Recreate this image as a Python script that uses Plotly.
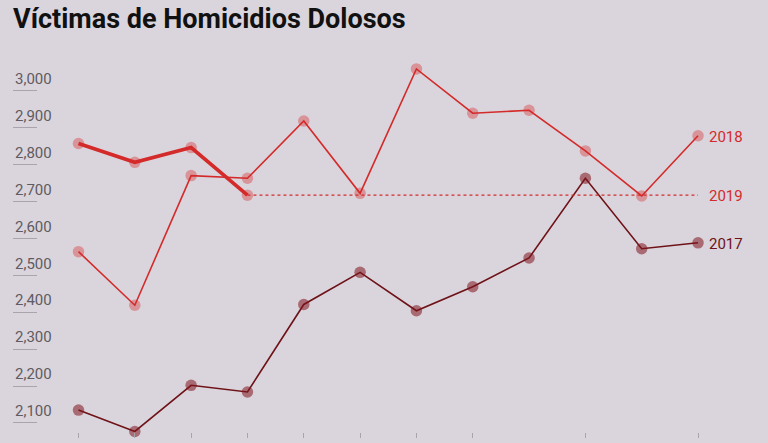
"""
Víctimas de Homicidios Dolosos: monthly victims, 2017-2019.
"""
import plotly.graph_objects as go

# ── Data ──────────────────────────────────────────────────────────────────────
MONTHS = ["Ene", "Feb", "Mar", "Abr", "May", "Jun",
          "Jul", "Ago", "Sep", "Oct", "Nov", "Dic"]
TICK_MONTHS = ["Ene", "Feb", "Mar", "Abr", "May", "Jun", "Jul", "Ago", "Oct", "Dic"]

V2017 = [2135, 2077, 2202, 2184, 2421, 2508, 2404, 2469, 2547, 2763, 2572, 2588]
V2018 = [2564, 2419, 2770, 2763, 2918, 2722, 3059, 2939, 2947, 2837, 2715, 2878]
V2019 = [2857, 2806, 2846, 2717]

Y_TICKS = [2100, 2200, 2300, 2400, 2500, 2600, 2700, 2800, 2900, 3000]

# ── Colours ───────────────────────────────────────────────────────────────────
PALETTE = {
    "bg":       "#DAD5DC",
    "red":      "#D42A2A",
    "red_mk":   "rgba(212,42,42,0.38)",
    "maroon":   "#6E1218",
    "maroon_mk": "rgba(128,20,30,0.55)",
    "tick":     "#A9A4AC",
    "label":    "#5F5B62",
    "title":    "#111111",
}

fig = go.Figure()

fig.add_trace(go.Scatter(
    x=MONTHS, y=V2017, name="2017", mode="lines+markers",
    line=dict(color=PALETTE["maroon"], width=1.6),
    marker=dict(size=11.5, color=PALETTE["maroon_mk"]),
    cliponaxis=False,
))
fig.add_trace(go.Scatter(
    x=MONTHS, y=V2018, name="2018", mode="lines+markers",
    line=dict(color=PALETTE["red"], width=1.6),
    marker=dict(size=11.5, color=PALETTE["red_mk"]),
    cliponaxis=False,
))
# last 2019 value carried to the end of the year as a reference
fig.add_trace(go.Scatter(
    x=MONTHS[len(V2019) - 1:], y=[V2019[-1]] * (len(MONTHS) - len(V2019) + 1),
    mode="lines", line=dict(color=PALETTE["red"], width=1.3, dash="3px,3px"),
    hoverinfo="skip",
))
fig.add_trace(go.Scatter(
    x=MONTHS[:len(V2019)], y=V2019, name="2019", mode="lines+markers",
    line=dict(color=PALETTE["red"], width=3.6),
    marker=dict(size=11.5, color=PALETTE["red_mk"]),
    cliponaxis=False,
))

for label, yval, color in [("2018", V2018[-1], PALETTE["red"]),
                           ("2019", V2019[-1], PALETTE["red"]),
                           ("2017", V2017[-1], PALETTE["maroon"])]:
    fig.add_annotation(
        x=MONTHS[-1], y=yval, text=label, showarrow=False,
        xanchor="left", xshift=9, yshift=-1,
        font=dict(size=15, color=color, family="Roboto"),
    )

fig.update_layout(
    width=768, height=443,
    paper_bgcolor=PALETTE["bg"], plot_bgcolor=PALETTE["bg"],
    font=dict(family="Roboto", color=PALETTE["label"]),
    margin=dict(l=13, r=2, t=55, b=11),
    showlegend=False,
    title=dict(
        text="<b>Víctimas de Homicidios Dolosos</b>",
        font=dict(size=27, color=PALETTE["title"], family="Roboto"),
        xref="paper", x=0, xanchor="left",
        yref="container", y=0.958, yanchor="middle",
    ),
    xaxis=dict(
        type="category", categoryorder="array", categoryarray=MONTHS,
        range=[-1.163, 12.207],
        showgrid=False, zeroline=False, showline=False,
        tickmode="array", tickvals=TICK_MONTHS,
        ticks="outside", ticklen=5, tickwidth=1, tickcolor=PALETTE["tick"],
        showticklabels=False,
    ),
    yaxis=dict(
        range=[2075.6, 3096.7],
        showgrid=False, zeroline=False, showline=False,
        tickmode="array", tickvals=Y_TICKS, tickformat=",",
        ticks="inside", ticklen=24, tickwidth=1, tickcolor=PALETTE["tick"],
        ticklabelposition="inside", ticklabelshift=-12, ticklabelstandoff=-22,
        tickfont=dict(size=15, color=PALETTE["label"], family="Roboto"),
    ),
)

# drop the browser's default body margin so the figure sits flush in the window
fig.write_html("out.html", config={"displayModeBar": False},
               post_script="document.body.style.margin='0';")
